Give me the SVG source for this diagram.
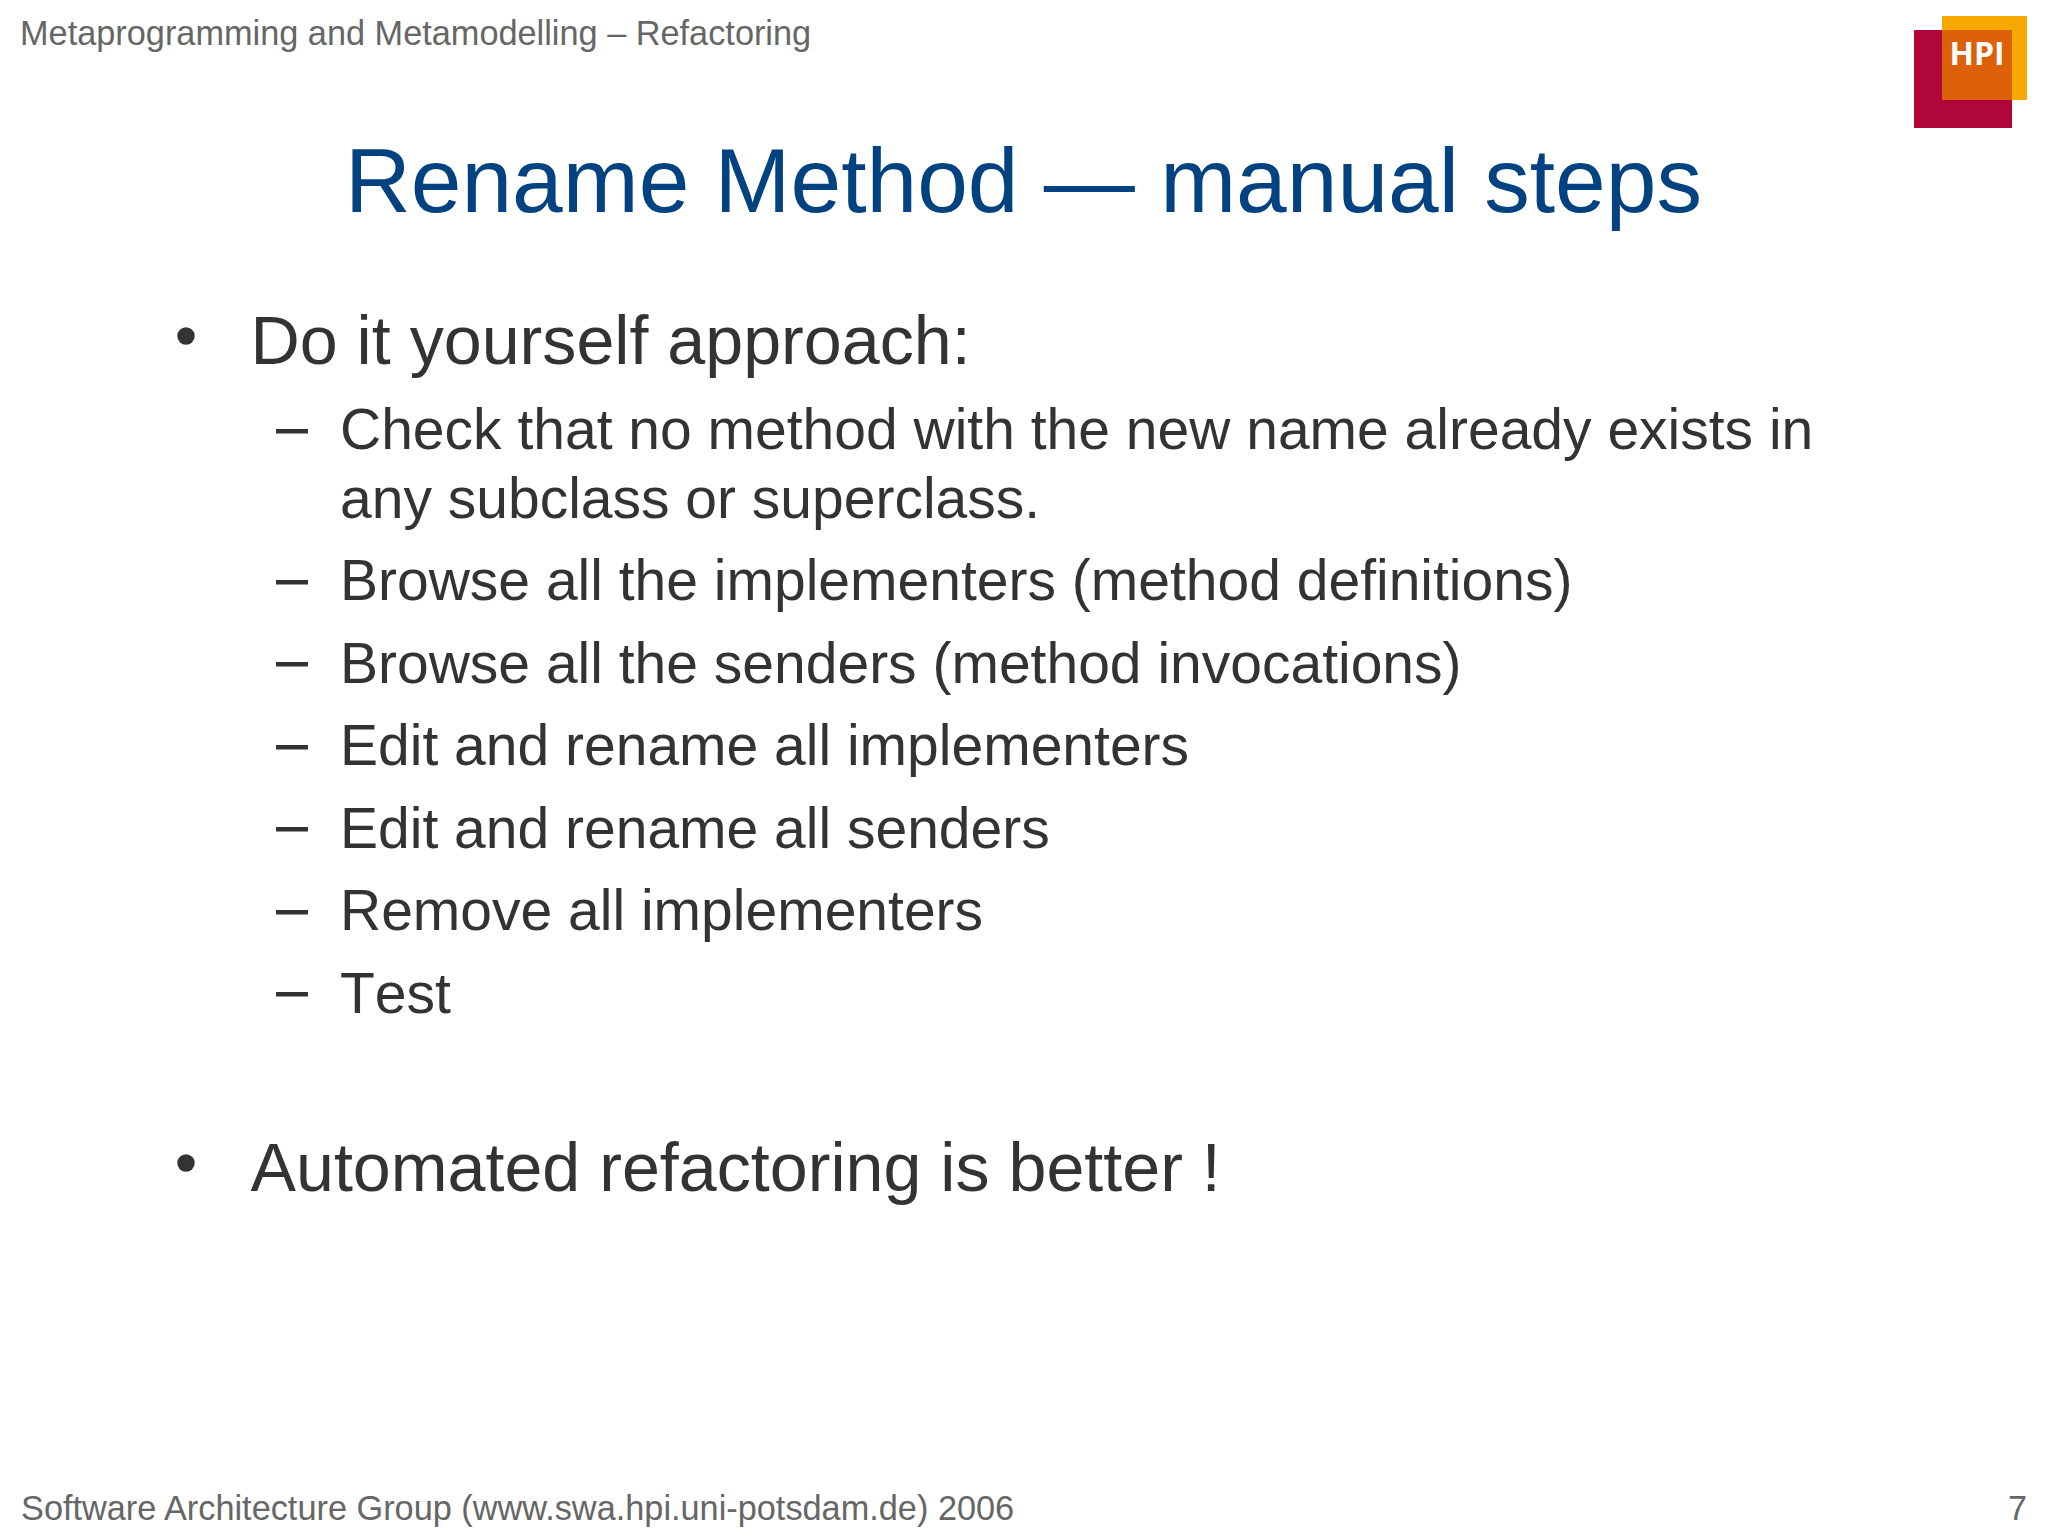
<svg xmlns="http://www.w3.org/2000/svg" width="2048" height="1536" viewBox="0 0 2048 1536">
<style>
text{font-family:"Liberation Sans",Arial,sans-serif}
.h{font-size:34.3px;fill:#666666}
.t{font-size:91.1px;fill:#024280}
.b{font-size:68.2px;fill:#333333}
.s{font-size:57px;fill:#333333}
</style>
<rect width="2048" height="1536" fill="#ffffff"/>
<g id="logo">
<rect x="1914" y="30" width="98" height="98" fill="#b1063a"/>
<rect x="1942" y="16" width="85" height="84" fill="#f6a800"/>
<rect x="1942" y="30" width="70" height="70" fill="#dd6108"/>
<text x="1977" y="65" text-anchor="middle" style="font-family:'Open Sans','Liberation Sans',sans-serif;font-size:32px;font-weight:700;fill:#ffffff">HPI</text>
</g>
<text class="h" x="20" y="44.500">Metaprogramming and Metamodelling – Refactoring</text>
<text class="t" x="345" y="212">Rename Method — manual steps</text>
<circle cx="186" cy="336" r="8.7" fill="#333333"/>
<text class="b" x="250.500" y="363.500">Do it yourself approach:</text>
<g fill="#333333">
<rect x="276" y="429" width="32" height="4.500"/>
<rect x="276" y="580" width="32" height="4.500"/>
<rect x="276" y="662" width="32" height="4.500"/>
<rect x="276" y="745" width="32" height="4.500"/>
<rect x="276" y="827" width="32" height="4.500"/>
<rect x="276" y="910" width="32" height="4.500"/>
<rect x="276" y="992" width="32" height="4.500"/>
</g>
<text class="s" x="340" y="448.500">Check that no method with the new name already exists in</text>
<text class="s" x="340" y="517.500">any subclass or superclass.</text>
<text class="s" x="340" y="600">Browse all the implementers (method definitions)</text>
<text class="s" x="340" y="682.500">Browse all the senders (method invocations)</text>
<text class="s" x="340" y="765">Edit and rename all implementers</text>
<text class="s" x="340" y="847.500">Edit and rename all senders</text>
<text class="s" x="340" y="930">Remove all implementers</text>
<text class="s" x="340" y="1012.500" style="font-kerning:none">Test</text>
<circle cx="186" cy="1163" r="8.7" fill="#333333"/>
<text class="b" x="250.500" y="1191">Automated refactoring is better !</text>
<text class="h" x="21" y="1519.500">Software Architecture Group (www.swa.hpi.uni-potsdam.de) 2006</text>
<text class="h" x="2027" y="1519.500" text-anchor="end">7</text>
</svg>
